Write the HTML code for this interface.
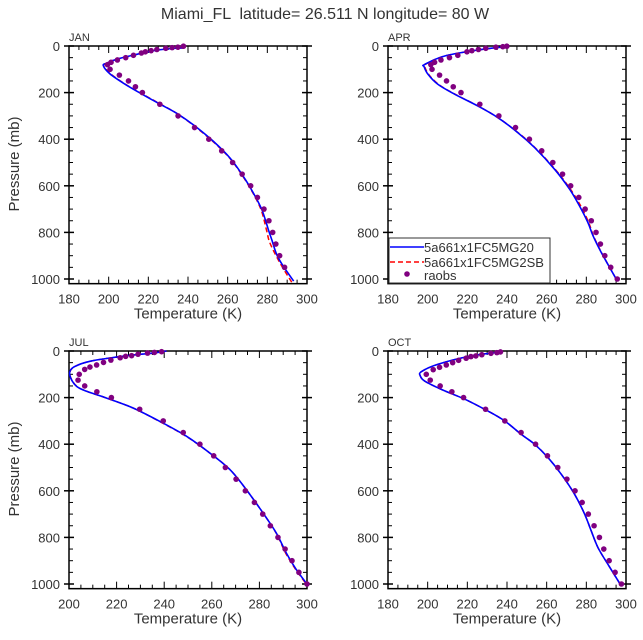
<!DOCTYPE html>
<html><head><meta charset="utf-8"><style>
body{margin:0;background:#fff}
svg{display:block;font-family:"Liberation Sans",sans-serif}
</style></head><body>
<svg id="chart" width="643" height="640" viewBox="0 0 643 640" xmlns="http://www.w3.org/2000/svg">
<text x="325" y="19" font-size="16" fill="#333" text-anchor="middle" xml:space="preserve">Miami_FL  latitude= 26.511 N longitude= 80 W</text>
</svg>
<script>
const months = ["JAN","APR","JUL","OCT"];
const xTickLabels = [["180","200","220","240","260","280","300"],["180","200","220","240","260","280","300"],["200","220","240","260","280","300"],["180","200","220","240","260","280","300"]];
const yTickLabels = ["0","200","400","600","800","1000"];
// raobs
const obsP_jan = [1,5,7,10,15,20,25,30,40,50,60,70,80,100,125,150,175,200,250,300,350,400,450,500,550,600,650,700,750,800,850,900,950];
const obsT_jan = [237.7,234.9,232,228.8,224.3,221.4,218.5,216.5,212.5,208.6,204.4,201.2,199.4,200.7,205.4,210,213.5,217,225.8,235,243.3,250.5,257,262.5,267.3,271.6,275,278.3,280.8,282.7,284.3,286.2,288.7];
const obsP_apr = [1,3,5,10,15,20,25,40,50,60,70,80,100,125,150,175,200,250,300,350,400,450,500,550,600,650,700,750,800,850,900,950,1000];
const obsT_apr = [239.9,237.9,234.4,229.3,225.6,222.3,219.8,215.2,211,206.7,203.5,201.6,202.2,206,209.5,212.9,216.8,226.3,235.9,244.3,251.3,257.5,263.1,268,272.1,276.2,279.4,282.5,284.9,287.1,289.3,292.3,295.6];
const obsP_jul = [3,6,9,14,20,23,29,39,49,60,69,79,100,125,150,175,200,250,300,350,400,450,500,550,600,650,700,750,800,850,900,950,1000];
const obsT_jul = [238.9,235.9,233,229,226.3,223.8,221.5,217.6,214.5,211.6,208.8,206.6,204.3,203.8,206.6,211.7,217.8,229.7,239.6,248,255,260.8,265.7,270.2,274.1,277.9,281.4,284.6,287.8,290.8,293.7,296.6,300];
const obsP_oct = [4,7,10,16,21,24,31,40,50,60,70,80,100,125,150,175,200,250,300,350,400,450,500,550,600,650,700,750,800,850,900,950,1000];
const obsT_oct = [236.7,234.9,231.9,227.3,224.3,221.8,219.4,215.6,212.6,209.4,206,202.8,199.3,201.3,206.3,212.2,218.1,229.2,238.9,247.1,254.4,260.4,265.6,270.2,274.3,277.9,281,283.9,286.6,288.8,291.5,294.5,297.7];
// model 5a661x1FC5MG20 (blue)
const modP_jan = [8,10,20,39,57,74,84,120,167,210,250,289,339,410,482,561,632,704,790,833,897,947,1009];
const modT_jan = [238,232.7,222.6,212.5,204,199,197.3,200.7,208.8,217.5,226,234.3,242.8,252.9,261.3,268,273,277.3,280.6,282.3,284.8,288.2,293.3];
const modP_apr = [3,17,43,79,89,122,165,207,258,308,372,436,529,615,687,758,815,887,1001];
const modT_apr = [239.7,225.4,208.6,198.5,198.2,200.2,205.2,213.6,225.4,235.5,245.5,253.9,264,271.6,276.6,280.8,283.4,287.6,295.1];
const modP_jul = [0,9,17,30,44,66,87,116,152,173,202,245,302,366,438,509,595,695,781,867,938,1000];
const modT_jul = [241,235.4,227,217.2,208.8,202.5,200.4,200.7,203.2,207.4,215.8,227,238.2,249.4,259.2,267.6,274.5,281.5,287.1,291.3,295.5,300];
const modP_oct = [3,21,57,89,107,129,165,207,258,300,358,400,458,529,615,701,773,844,916,1001];
const modT_oct = [238,222,205.2,196.8,196.3,198.5,206.9,218.7,230.4,238.8,247.2,253.9,260.7,267.4,274.1,279.2,282.5,285.9,290.9,297.1];
// model 5a661x1FC5MG2SB (red dashed)
const sbP_jan = [8,10,20,39,57,74,84,120,167,210,250,289,339,410,482,561,632,704,790,847,933,1015];
const sbT_jan = [238,232.7,222.6,212.5,204,199,197.5,201,209,217.8,226.3,234.3,242.5,252.6,261.1,267.8,272.8,276.9,279.6,281.4,286.5,292.4];
const sbP_apr = modP_apr;
const sbT_apr = [239.7,225.4,208.6,198.7,198.5,200.5,205.5,213.8,225.5,235.5,245.6,254.1,264.3,272,277.2,281.2,283.6,287.7,295.1];
const sbP_jul = modP_jul;
const sbT_jul = [241,235.4,227,217.2,208.8,202.5,200.5,200.8,203.3,207.5,215.8,227,238,249.2,259.2,267.6,274.5,281.5,287,291,295.3,299.7];
const sbP_oct = modP_oct;
const sbT_oct = modT_oct;

const obsP=[obsP_jan,obsP_apr,obsP_jul,obsP_oct], obsT=[obsT_jan,obsT_apr,obsT_jul,obsT_oct];
const modP=[modP_jan,modP_apr,modP_jul,modP_oct], modT=[modT_jan,modT_apr,modT_jul,modT_oct];
const sbP=[sbP_jan,sbP_apr,sbP_jul,sbP_oct], sbT=[sbT_jan,sbT_apr,sbT_jul,sbT_oct];

const NS="http://www.w3.org/2000/svg";
const svg=document.getElementById('chart');
function mk(tag,attrs,parent){const e=document.createElementNS(NS,tag);for(const k in attrs)e.setAttribute(k,attrs[k]);(parent||svg).appendChild(e);return e;}
const panels=[{x0:69,x1:307,y0:46},{x0:388,x1:626,y0:46},{x0:69,x1:307,y0:351},{x0:388,x1:626,y0:351}];
const tmin=[180,180,200,180];
function smooth(pts){let d="M"+pts[0][0].toFixed(1)+","+pts[0][1].toFixed(1);
 for(let i=0;i<pts.length-1;i++){const p0=pts[Math.max(0,i-1)],p1=pts[i],p2=pts[i+1],p3=pts[Math.min(pts.length-1,i+2)];
  const c1=[p1[0]+(p2[0]-p0[0])/6,p1[1]+(p2[1]-p0[1])/6],c2=[p2[0]-(p3[0]-p1[0])/6,p2[1]-(p3[1]-p1[1])/6];
  d+=" C"+c1[0].toFixed(1)+","+c1[1].toFixed(1)+" "+c2[0].toFixed(1)+","+c2[1].toFixed(1)+" "+p2[0].toFixed(1)+","+p2[1].toFixed(1);}
 return d;}
panels.forEach((pn,i)=>{
 const g=mk('g',{});
 
 
 const t0=tmin[i],t1=300;
 const X=t=>pn.x0+(t-t0)/(t1-t0)*(pn.x1-pn.x0);
 const Y=p=>pn.y0+p*0.233;
 const yb=Y(1020);
 for(let t=t0;t<=t1;t+=5){const major=(t-t0)%20===0;const L=major?7:4;
  mk('line',{x1:X(t),x2:X(t),y1:yb,y2:yb-L,stroke:'#000','stroke-width':1},g);
  mk('line',{x1:X(t),x2:X(t),y1:pn.y0,y2:pn.y0+L,stroke:'#000','stroke-width':1},g);}
 for(let p=0;p<=1000;p+=50){const major=p%200===0;
  if(major){mk('line',{x1:pn.x0-5,x2:pn.x0+5,y1:Y(p),y2:Y(p),stroke:'#000','stroke-width':1.5},g);
   mk('line',{x1:pn.x1-5,x2:pn.x1+5,y1:Y(p),y2:Y(p),stroke:'#000','stroke-width':1.5},g);}
  else{mk('line',{x1:pn.x0,x2:pn.x0+4,y1:Y(p),y2:Y(p),stroke:'#000','stroke-width':1},g);
   mk('line',{x1:pn.x1-4,x2:pn.x1,y1:Y(p),y2:Y(p),stroke:'#000','stroke-width':1},g);}}
 const fr=mk('rect',{x:pn.x0,y:pn.y0,width:pn.x1-pn.x0,height:yb-pn.y0,fill:'none',stroke:'#000','stroke-width':1.5},g);
 
 
 xTickLabels[i].forEach(s=>{const tx=mk('text',{x:X(+s),y:yb+20,'font-size':13,fill:'#333','text-anchor':'middle'},g);tx.textContent=s;
  
  });
 yTickLabels.forEach(s=>{const tx=mk('text',{x:pn.x0-9,y:Y(+s)+5,'font-size':13,fill:'#333','text-anchor':'end'},g);tx.textContent=s;
  
  });
 const xt=mk('text',{x:(pn.x0+pn.x1)/2,y:yb+35,'font-size':15,fill:'#333','text-anchor':'middle'},g);xt.textContent='Temperature (K)';
 
 
 if(i%2===0){const yt=mk('text',{x:0,y:0,'font-size':15,fill:'#333','text-anchor':'middle',transform:'translate(19,'+(pn.y0+118)+') rotate(-90)'},g);yt.textContent='Pressure (mb)';
  
  }
 const ml=mk('text',{x:pn.x0,y:pn.y0-5,'font-size':11,fill:'#333'},g);ml.textContent=months[i];
 
 
 const rp=mk('path',{d:smooth(sbP[i].map((p,k)=>[X(sbT[i][k]),Y(p)])),fill:'none',stroke:'#f00','stroke-width':1.5,'stroke-dasharray':'5,3'},g);
 
 
 const bp=mk('path',{d:smooth(modP[i].map((p,k)=>[X(modT[i][k]),Y(p)])),fill:'none',stroke:'#00f','stroke-width':1.6},g);
 
 
 obsP[i].forEach((p,k)=>{const c=mk('circle',{cx:X(obsT[i][k]),cy:Y(p),r:2.8,fill:'#800080'},g);
  
  });
});
const lg=mk('g',{});


mk('rect',{x:389,y:238,width:161,height:45,fill:'#fff',stroke:'#333','stroke-width':1},lg);
mk('line',{x1:390,x2:424,y1:247,y2:247,stroke:'#00f','stroke-width':1.6},lg);
mk('line',{x1:390,x2:424,y1:262,y2:262,stroke:'#f00','stroke-width':1.5,'stroke-dasharray':'5,3'},lg);
mk('circle',{cx:407,cy:274,r:2.8,fill:'#800080'},lg);
[['5a661x1FC5MG20',252],['5a661x1FC5MG2SB',267],['raobs',280]].forEach(a=>{const t=mk('text',{x:424,y:a[1],'font-size':13,fill:'#333'},lg);t.textContent=a[0];
 
 });
</script>
</body></html>
